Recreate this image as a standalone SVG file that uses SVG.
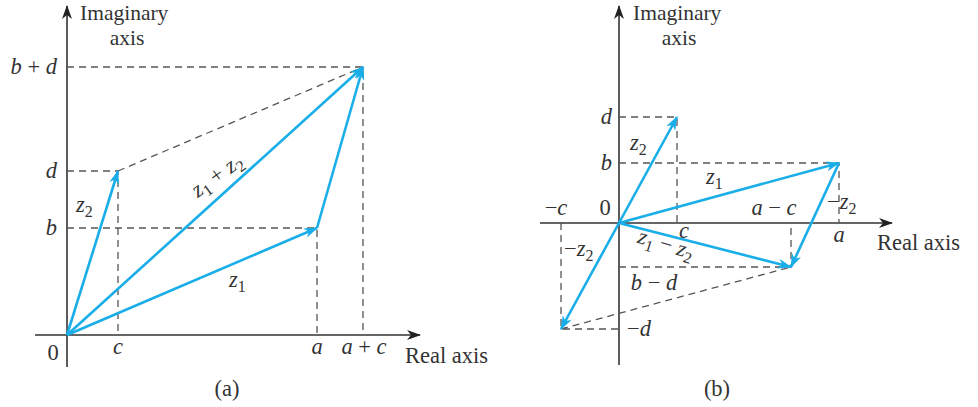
<svg xmlns="http://www.w3.org/2000/svg" width="978" height="407" viewBox="0 0 978 407">
<style>
text{font-family:"Liberation Serif","Times New Roman",serif;font-size:22.5px;fill:#333}
.i{font-style:italic}
.ax{font-size:21.5px}
.axis{stroke:#333;stroke-width:1.6;fill:none}
.dash{stroke:#555;stroke-width:1.3;stroke-dasharray:7,5;fill:none}
.vec{stroke:#1AAEE8;stroke-width:2.6;fill:none;marker-end:url(#ab)}
.sub{font-size:16px}
</style>
<defs>
<marker id="ab" viewBox="0 0 14 10" refX="13" refY="5" markerWidth="14" markerHeight="10" orient="auto" markerUnits="userSpaceOnUse">
<path d="M0,0 L14,5 L0,10 L4,5 z" fill="#1AAEE8"/>
</marker>
<marker id="ak" viewBox="0 0 14 10" refX="13" refY="5" markerWidth="14" markerHeight="10" orient="auto" markerUnits="userSpaceOnUse">
<path d="M0,0 L14,5 L0,10 L4,5 z" fill="#222"/>
</marker>
</defs>
<rect width="978" height="407" fill="#fff"/>

<g id="panel-a">
<g id="axes-a">
<line class="axis" x1="67" y1="367" x2="67" y2="6" marker-end="url(#ak)"/>
<line class="axis" x1="35" y1="335" x2="420" y2="335" marker-end="url(#ak)"/>
</g>
<g id="dashes-a">
<path class="dash" d="M67,67 H363 V335"/>
<path class="dash" d="M67,171 H118 V335"/>
<path class="dash" d="M67,228 H317 V335"/>
<path class="dash" d="M118,171 L363,67"/>
</g>
<g id="vectors-a">
<line class="vec" x1="67" y1="335" x2="118" y2="171"/>
<line class="vec" x1="67" y1="335" x2="317" y2="228"/>
<line class="vec" x1="67" y1="335" x2="363" y2="67"/>
<line class="vec" x1="317" y1="228" x2="363" y2="67"/>
</g>
<g id="labels-a">
<text x="80" y="20" class="ax">Imaginary</text>
<text x="127" y="45" class="ax" text-anchor="middle">axis</text>
<text x="57" y="74" text-anchor="end"><tspan class="i">b</tspan> + <tspan class="i">d</tspan></text>
<text x="57" y="178" text-anchor="end" class="i">d</text>
<text x="57" y="235" text-anchor="end" class="i">b</text>
<text x="53" y="360" text-anchor="middle">0</text>
<text x="118" y="354" text-anchor="middle" class="i">c</text>
<text x="317" y="354" text-anchor="middle" class="i">a</text>
<text x="364" y="354" text-anchor="middle"><tspan class="i">a</tspan> + <tspan class="i">c</tspan></text>
<text x="405" y="363">Real axis</text>
<text x="227" y="396" text-anchor="middle">(a)</text>
<text x="76" y="212"><tspan class="i">z</tspan><tspan class="sub" dy="5">2</tspan></text>
<text x="229" y="287"><tspan class="i">z</tspan><tspan class="sub" dy="5">1</tspan></text>
<text transform="translate(221,181) rotate(-36)" text-anchor="middle"><tspan class="i">z</tspan><tspan class="sub" dy="5">1</tspan><tspan dy="-5"> + </tspan><tspan class="i">z</tspan><tspan class="sub" dy="5">2</tspan></text>
</g>
</g>

<g id="panel-b">
<g id="axes-b">
<line class="axis" x1="619" y1="365" x2="619" y2="6" marker-end="url(#ak)"/>
<line class="axis" x1="540" y1="223" x2="892" y2="223" marker-end="url(#ak)"/>
</g>
<g id="dashes-b">
<path class="dash" d="M619,117 H677 V223"/>
<path class="dash" d="M619,163 H839 V223"/>
<path class="dash" d="M561,223 V329 H619"/>
<path class="dash" d="M619,267 H791 V223"/>
<path class="dash" d="M561,329 L791,267"/>
</g>
<g id="vectors-b">
<line class="vec" x1="619" y1="223" x2="677" y2="117"/>
<line class="vec" x1="619" y1="223" x2="839" y2="163"/>
<line class="vec" x1="619" y1="223" x2="561" y2="329"/>
<line class="vec" x1="619" y1="223" x2="791" y2="267"/>
<line class="vec" x1="839" y1="163" x2="791" y2="267"/>
</g>
<g id="labels-b">
<text x="633" y="20" class="ax">Imaginary</text>
<text x="679" y="45" class="ax" text-anchor="middle">axis</text>
<text x="612" y="124" text-anchor="end" class="i">d</text>
<text x="612" y="170" text-anchor="end" class="i">b</text>
<text x="630" y="150"><tspan class="i">z</tspan><tspan class="sub" dy="5">2</tspan></text>
<text x="706" y="184"><tspan class="i">z</tspan><tspan class="sub" dy="5">1</tspan></text>
<text x="605" y="215" text-anchor="middle">0</text>
<text x="556" y="215" text-anchor="middle">−<tspan class="i">c</tspan></text>
<text x="774" y="215" text-anchor="middle"><tspan class="i">a</tspan> − <tspan class="i">c</tspan></text>
<text x="684" y="238" text-anchor="middle" class="i">c</text>
<text x="839" y="242" text-anchor="middle" class="i">a</text>
<text x="827" y="209">−<tspan class="i">z</tspan><tspan class="sub" dy="5">2</tspan></text>
<text x="877" y="250">Real axis</text>
<text x="564" y="256">−<tspan class="i">z</tspan><tspan class="sub" dy="5">2</tspan></text>
<text transform="translate(664,251) rotate(17)" text-anchor="middle"><tspan class="i">z</tspan><tspan class="sub" dy="5">1</tspan><tspan dy="-5"> − </tspan><tspan class="i">z</tspan><tspan class="sub" dy="5">2</tspan></text>
<text x="654" y="290" text-anchor="middle"><tspan class="i">b</tspan> − <tspan class="i">d</tspan></text>
<text x="627" y="336">−<tspan class="i">d</tspan></text>
<text x="717" y="396" text-anchor="middle">(b)</text>
</g>
</g>
</svg>
